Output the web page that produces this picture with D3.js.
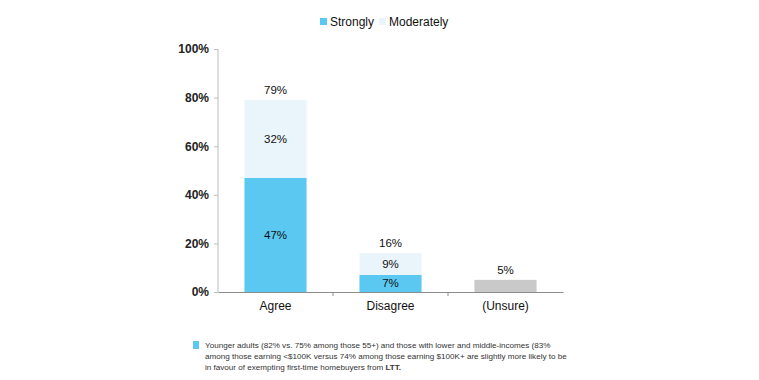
<!DOCTYPE html>
<html><head><meta charset="utf-8">
<script src="https://cdn.jsdelivr.net/npm/d3@7"></script>
<style>
body{margin:0;background:#fff;}
text{font-family:"Liberation Sans",Arial,sans-serif;}
</style></head>
<body><svg id="c" width="759" height="380"></svg>
<script>
const categories = ["Agree","Disagree","(Unsure)"];
const strongly = [47,7,null];
const moderately = [32,9,null];
const totals = [79,16,5];
const yTicks = [0,20,40,60,80,100];
const legendLabels = ["Strongly","Moderately"];
const noteLines = [
 "Younger adults (82% vs. 75% among those 55+) and those with lower and middle-incomes (83%",
 "among those earning <$100K versus 74% among those earning $100K+ are slightly more likely to be",
 "in favour of exempting first-time homebuyers from "
];
const noteBold = "LTT.";
const colStrong = "#5bc8f1", colMod = "#eaf5fb", colUnsure = "#c9c9c9";

const svg = d3.select("#c");
const x = d3.scaleBand().domain(categories).range([218,563]).paddingInner(0.46).paddingOuter(0.23);
const y = d3.scaleLinear().domain([0,100]).range([292,49]);

// y axis
const ya = svg.append("g").attr("transform","translate(218,0)")
 .call(d3.axisLeft(y).tickValues(yTicks).tickFormat(d=>d+"%").tickSize(4).tickPadding(5));
ya.select(".domain").attr("stroke","#bdbdbd").attr("d","M0,49V292");
ya.selectAll(".tick line").attr("stroke","#bdbdbd");
ya.selectAll("text").attr("font-size",12).attr("fill","#222").attr("font-weight","bold").style("font-family","Liberation Sans, Arial, sans-serif");

// bars
categories.forEach((c,i)=>{
  const bx = x(c), bw = x.bandwidth();
  if(strongly[i]!=null){
    svg.append("rect").attr("x",bx).attr("width",bw).attr("y",y(strongly[i])).attr("height",y(0)-y(strongly[i])).attr("fill",colStrong);
    svg.append("rect").attr("x",bx).attr("width",bw).attr("y",y(strongly[i]+moderately[i])).attr("height",y(strongly[i])-y(strongly[i]+moderately[i])).attr("fill",colMod);
    svg.append("text").attr("x",bx+bw/2).attr("y",(y(0)+y(strongly[i]))/2+4).attr("text-anchor","middle").attr("font-size",11.5).attr("fill","#111").text(strongly[i]+"%");
    svg.append("text").attr("x",bx+bw/2).attr("y",(y(strongly[i])+y(strongly[i]+moderately[i]))/2+4).attr("text-anchor","middle").attr("font-size",11.5).attr("fill","#111").text(moderately[i]+"%");
  } else {
    svg.append("rect").attr("x",bx).attr("width",bw).attr("y",y(totals[i])).attr("height",y(0)-y(totals[i])).attr("fill",colUnsure);
  }
  svg.append("text").attr("x",bx+bw/2).attr("y",y(totals[i])-6).attr("text-anchor","middle").attr("font-size",11.5).attr("fill","#111").text(totals[i]+"%");
});

// x axis
const xa = svg.append("g").attr("transform","translate(0,292)")
 .call(d3.axisBottom(x).tickSize(0).tickPadding(9));
xa.select(".domain").attr("stroke","#8c8c8c");
xa.selectAll("text").attr("font-size",12).attr("fill","#111").style("font-family","Liberation Sans, Arial, sans-serif");
[1,2].forEach(k=>{
  const xx = x(categories[k]) - x.step()*x.paddingInner()/2;
  svg.append("line").attr("x1",xx).attr("x2",xx).attr("y1",292).attr("y2",296).attr("stroke","#8c8c8c");
});

// legend
const lg = [{t:legendLabels[0],c:colStrong,x:320},{t:legendLabels[1],c:colMod,x:379}];
lg.forEach(d=>{
  svg.append("rect").attr("x",d.x).attr("y",18).attr("width",7).attr("height",7).attr("fill",d.c);
  svg.append("text").attr("x",d.x+10).attr("y",26).attr("font-size",12).attr("fill","#111").text(d.t);
});

// note
svg.append("rect").attr("x",193).attr("y",341).attr("width",6).attr("height",8).attr("fill",colStrong);
noteLines.forEach((t,i)=>{
  const tx = svg.append("text").attr("x",205).attr("y",348+i*11).attr("font-size",8.1).attr("fill","#333").text(t);
  if(i===noteLines.length-1) tx.append("tspan").attr("font-weight","bold").text(noteBold);
});
</script></body></html>
